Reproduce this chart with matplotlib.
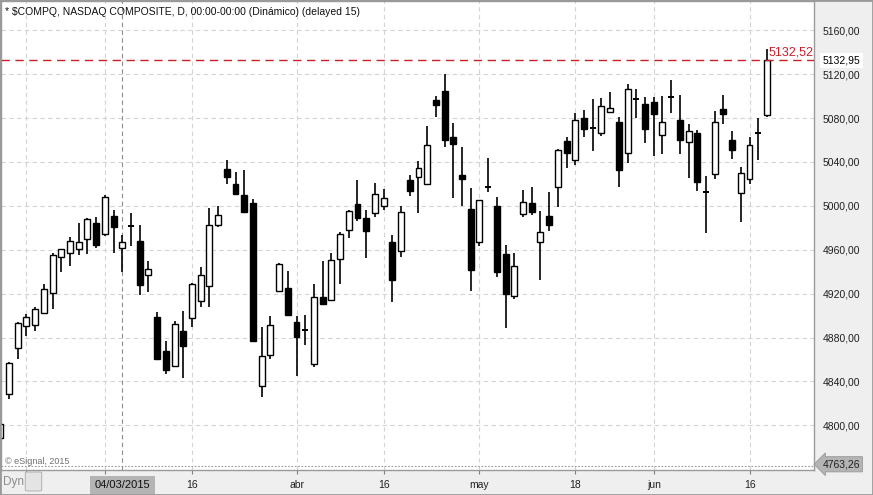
import matplotlib
matplotlib.use("Agg")
import matplotlib.pyplot as plt
import matplotlib.patches as patches
import numpy as np

plt.rcParams['font.family'] = ['Liberation Sans', 'DejaVu Sans']

# daily OHLC, 11 Feb 2015 .. 18 Jun 2015
opens = [4788, 4828.9, 4870.7, 4890.3, 4891.6, 4902.1, 4920.3, 4953.1, 4957.1, 4960.7,
         4969.8, 4984.6, 4974.3, 4991.0, 4961.6, 4981.0, 4967.6, 4937.1, 4899.1, 4867.3,
         4854.3, 4885.5, 4897.9, 4913.4, 4926.7, 4982.5, 5033.7, 5020.3, 5010.3, 5003.0,
         4836.2, 4864.3, 4922.1, 4925.5, 4894.5, 4886.4, 4856.1, 4917.3, 4914.3, 4951.6,
         4977.9, 5001.8, 4989.1, 4993.0, 4999.7, 4966.7, 4958.5, 5023.6, 5026.7, 5020.3,
         5096.1, 5104.6, 5062.7, 5028.0, 4997.0, 4966.7, 5017.8, 4999.7, 4956.1, 4917.9,
         4992.1, 5002.8, 4967.0, 4990.7, 5016.7, 5058.8, 5041.6, 5080.0, 5071.5, 5066.1,
         5085.8, 5076.4, 5048.0, 5097.8, 5092.7, 5094.5, 5064.3, 5099.3, 5078.2, 5058.3,
         5066.1, 5013.0, 5029.4, 5087.9, 5060.0, 5012.1, 5024.3, 5067.0, 5082.7]
highs = [4803, 4857.5, 4894.0, 4901.6, 4907.6, 4928.9, 4957.3, 4961.0, 4971.2, 4984.0,
         4989.1, 4989.4, 5009.4, 4996.4, 4973.0, 4993.4, 4982.8, 4950.0, 4903.4, 4876.4,
         4895.5, 4904.5, 4930.0, 4944.5, 4998.2, 5000.0, 5041.8, 5031.0, 5032.7, 5006.1,
         4889.4, 4899.4, 4947.9, 4940.9, 4899.4, 4900.9, 4929.1, 4949.4, 4956.6, 4975.8,
         4996.4, 5023.6, 4996.0, 5020.6, 5015.2, 4973.4, 5000.0, 5028.2, 5040.9, 5072.7,
         5100.0, 5119.7, 5075.5, 5053.6, 5015.8, 5005.5, 5043.4, 5008.2, 4964.5, 4957.1,
         5014.3, 5017.3, 4995.5, 5012.7, 5051.6, 5062.7, 5084.5, 5087.3, 5097.3, 5097.9,
         5103.6, 5080.9, 5110.7, 5106.1, 5099.1, 5099.4, 5100.0, 5114.3, 5100.9, 5074.3,
         5068.8, 5027.3, 5086.4, 5100.9, 5068.2, 5035.5, 5062.5, 5080.0, 5142.5]
lows = [4780, 4824.3, 4860.7, 4881.2, 4885.8, 4901.6, 4905.8, 4939.4, 4945.5, 4955.5,
        4956.1, 4961.2, 4972.1, 4957.1, 4939.4, 4963.0, 4918.9, 4921.2, 4860.3, 4846.6,
        4853.4, 4843.4, 4889.4, 4907.9, 4907.9, 4980.3, 5020.3, 5011.2, 4993.9, 4876.6,
        4825.7, 4860.3, 4921.2, 4899.4, 4844.8, 4873.4, 4853.0, 4910.3, 4914.3, 4928.8,
        4970.3, 4986.4, 4952.1, 4989.4, 4996.0, 4912.1, 4953.0, 5009.1, 4993.0, 5019.8,
        5080.9, 5053.9, 5006.7, 5000.0, 4922.1, 4963.4, 5013.0, 4934.9, 4888.8, 4914.9,
        4989.4, 4991.8, 4932.0, 4977.3, 4999.1, 5034.8, 5037.6, 5063.0, 5050.0, 5063.4,
        5084.5, 5016.7, 5039.4, 5080.3, 5057.5, 5045.5, 5047.6, 5084.8, 5047.0, 5025.7,
        5013.6, 4974.8, 5024.3, 5074.8, 5043.0, 4985.5, 5019.8, 5042.1, 5080.9]
closes = [4801, 4857.0, 4893.4, 4898.9, 4906.4, 4924.3, 4955.5, 4960.7, 4968.2, 4967.1,
          4987.9, 4964.3, 5008.2, 4980.3, 4967.3, 4982.8, 4927.6, 4942.8, 4860.3, 4850.3,
          4892.7, 4872.1, 4929.1, 4937.1, 4982.8, 4991.6, 5026.7, 5011.2, 4994.5, 4876.6,
          4863.6, 4891.1, 4947.0, 4900.9, 4880.3, 4886.9, 4917.3, 4910.3, 4950.6, 4974.5,
          4995.5, 4988.8, 4977.3, 5010.6, 5007.0, 4932.1, 4994.6, 5013.6, 5034.3, 5055.2,
          5092.1, 5060.0, 5056.1, 5024.0, 4941.2, 5005.2, 5017.0, 4939.4, 4919.4, 4945.2,
          5003.4, 4994.3, 4976.1, 4982.2, 5050.7, 5048.5, 5077.9, 5070.3, 5070.9, 5090.9,
          5088.9, 5033.0, 5106.1, 5097.5, 5070.3, 5083.4, 5076.1, 5099.0, 5059.7, 5068.3,
          5022.1, 5012.7, 5076.4, 5083.4, 5051.2, 5029.7, 5055.2, 5065.5, 5132.5]

tick_idx = [3, 12, 22, 34, 44, 55, 66, 75, 86]
tick_labels = ['', '', '16', 'abr', '16', 'may', '18', 'jun', '16']
y_ticks = [4800, 4840, 4880, 4920, 4960, 5000, 5040, 5080, 5120, 5160]
cursor_idx = 14
cursor_label = '04/03/2015'
last_price = 5132.95
line_price = 5132.52
low_price = 4763.26
title = '* $COMPQ, NASDAQ COMPOSITE, D, 00:00-00:00 (Dinámico) (delayed 15)'

W, H = 873, 495
fig = plt.figure(figsize=(W / 100, H / 100), dpi=100, facecolor='#efefef')
ax = fig.add_axes([1 / W, (H - 470) / H, 813 / W, 469 / H], facecolor='white')

x = np.arange(len(opens))
o = np.array(opens)
c = np.array(closes)

# wicks
ax.vlines(x, lows, highs, color='black', lw=1.2, zorder=3)
# bodies
for i in range(len(x)):
    if abs(c[i] - o[i]) < 2:
        mid = (c[i] + o[i]) / 2
        ax.bar(x[i], 1.8, bottom=mid - 0.9, width=0.7, color='black', lw=0, zorder=4)
    else:
        up = c[i] > o[i]
        ax.bar(x[i], abs(c[i] - o[i]), bottom=min(o[i], c[i]), width=0.68,
               facecolor='white' if up else 'black', edgecolor='black', lw=1.0, zorder=4)

ax.set_xlim(0.08, 93.4)
ax.set_ylim(4759.3, 5186.6)

# grid
for t in tick_idx:
    ax.axvline(t, color='#d4d4d4', lw=0.8, dashes=(4, 3), zorder=1)
for yv in y_ticks:
    ax.axhline(yv, color='#d4d4d4', lw=0.8, dashes=(4, 3), zorder=1)
ax.axhline(low_price, color='#9a9a9a', lw=0.8, dashes=(1.5, 1.5), zorder=1)
ax.axvline(cursor_idx, color='#8c8c8c', lw=0.8, dashes=(4, 3), zorder=2)

# last price line
ax.axhline(line_price, color='#c8202a', lw=1.0, dashes=(6, 4), zorder=5)
ax.text(88.2, line_price + 1.5, '5132,52', color='#c8202a', fontsize=9,
        ha='left', va='bottom', zorder=6)

ax.yaxis.tick_right()
ax.set_yticks(y_ticks)
ax.set_yticklabels([f'{v:.2f}'.replace('.', ',') for v in y_ticks])
ax.tick_params(axis='y', length=0, pad=6, labelsize=7.5, colors='#202020')
ax.set_xticks(tick_idx)
ax.set_xticklabels(tick_labels)
ax.tick_params(axis='x', length=3, width=0.8, color='#808080', pad=4,
               labelsize=7.5, labelcolor='#202020')
for s in ax.spines.values():
    s.set_color('#9a9a9a')
    s.set_linewidth(1)

ax.text(4 / 813, 1 - 11 / 469, title, transform=ax.transAxes, fontsize=7.5,
        va='center', ha='left', color='#101010')
ax.text(4 / 813, 8 / 469, '© eSignal, 2015', transform=ax.transAxes, fontsize=6.5,
        va='center', ha='left', color='#707070')

# price boxes on the right axis
ax.annotate(f'{last_price:.2f}'.replace('.', ','), xy=(1.0, line_price),
            xycoords=('axes fraction', 'data'), xytext=(6, 0), textcoords='offset points',
            fontsize=7.5, va='center', ha='left', color='black',
            bbox=dict(boxstyle='square,pad=0.25', fc='white', ec='none'))
ax.annotate(f'{low_price:.2f}'.replace('.', ','), xy=(1.0, low_price),
            xycoords=('axes fraction', 'data'), xytext=(6, 1), textcoords='offset points',
            fontsize=7.5, va='center', ha='left', color='#202020',
            bbox=dict(boxstyle='larrow,pad=0.25', fc='#b4b4b4', ec='#9a9a9a', lw=0.6))

# cursor date box on the time axis
ax.annotate(cursor_label, xy=(cursor_idx, 0), xycoords=('data', 'axes fraction'),
            xytext=(0, -11), textcoords='offset points', fontsize=8,
            ha='center', va='center', color='#101010',
            bbox=dict(boxstyle='square,pad=0.4', fc='#b4b4b4', ec='none'))

fig.text(3 / W, 1 - 482 / H, 'Dyn', fontsize=8.5, color='#8c8c8c', va='center', ha='left')
fig.patches.append(patches.FancyBboxPatch((27 / W, 1 - 490 / H), 13 / W, 17 / H,
                   boxstyle='round,pad=0.002', transform=fig.transFigure,
                   fc='#e4e4e4', ec='#a8a8a8', lw=0.6))
fig.patches.append(patches.Rectangle((0, 0), 1, 1, transform=fig.transFigure,
                   fill=False, ec='#9a9a9a', lw=2))

fig.savefig('out.png', dpi=100)
